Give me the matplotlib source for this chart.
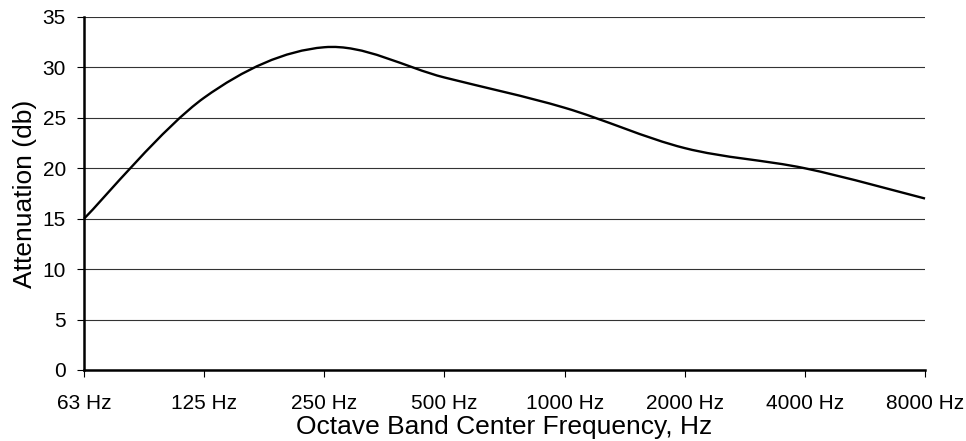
import matplotlib
matplotlib.use("Agg")
import matplotlib.pyplot as plt
from matplotlib.path import Path
from matplotlib.patches import PathPatch
import numpy as np

plt.rcParams['font.family'] = ['Liberation Sans', 'DejaVu Sans']

freqs = ["63 Hz", "125 Hz", "250 Hz", "500 Hz", "1000 Hz", "2000 Hz", "4000 Hz", "8000 Hz"]
attenuation = [15, 27, 32, 29, 26, 22, 20, 17]
yticks = [0, 5, 10, 15, 20, 25, 30, 35]

fig = plt.figure(figsize=(9.66, 4.41), dpi=100)
ax = fig.add_axes([0.087, 0.161, 0.8706, 0.8005])

# smoothed line like a spreadsheet chart (bezier through the points)
x = np.arange(len(attenuation), dtype=float)
y = np.array(attenuation, dtype=float)
verts = [(x[0], y[0])]
codes = [Path.MOVETO]
n = len(x)
for i in range(n - 1):
    p0 = np.array([x[max(i - 1, 0)], y[max(i - 1, 0)]])
    p1 = np.array([x[i], y[i]])
    p2 = np.array([x[i + 1], y[i + 1]])
    p3 = np.array([x[min(i + 2, n - 1)], y[min(i + 2, n - 1)]])
    c1 = p1 + (p2 - p0) / 6
    c2 = p2 - (p3 - p1) / 6
    verts += [tuple(c1), tuple(c2), tuple(p2)]
    codes += [Path.CURVE4] * 3
ax.add_patch(PathPatch(Path(verts, codes), facecolor='none', edgecolor='black', lw=1.7, zorder=3, clip_on=False))

ax.set_xlim(0, len(freqs) - 1)
ax.set_ylim(0, 35)
ax.set_xticks(x)
ax.set_xticklabels(freqs, fontsize=15)
ax.set_yticks(yticks)
ax.set_yticklabels([str(v) for v in yticks], fontsize=15)
ax.yaxis.grid(True, color='#333333', lw=0.8)
ax.set_axisbelow(True)

for s in ['top', 'right']:
    ax.spines[s].set_visible(False)
for s in ['left', 'bottom']:
    ax.spines[s].set_linewidth(1.8)
ax.tick_params(axis='both', direction='out', length=5, width=0.8)
ax.tick_params(axis='x', pad=12)
ax.tick_params(axis='y', pad=8)

ax.set_xlabel("Octave Band Center Frequency, Hz", fontsize=19, labelpad=2)
ax.set_ylabel("Attenuation (db)", fontsize=19, labelpad=4)

fig.savefig("out.png", dpi=100)
